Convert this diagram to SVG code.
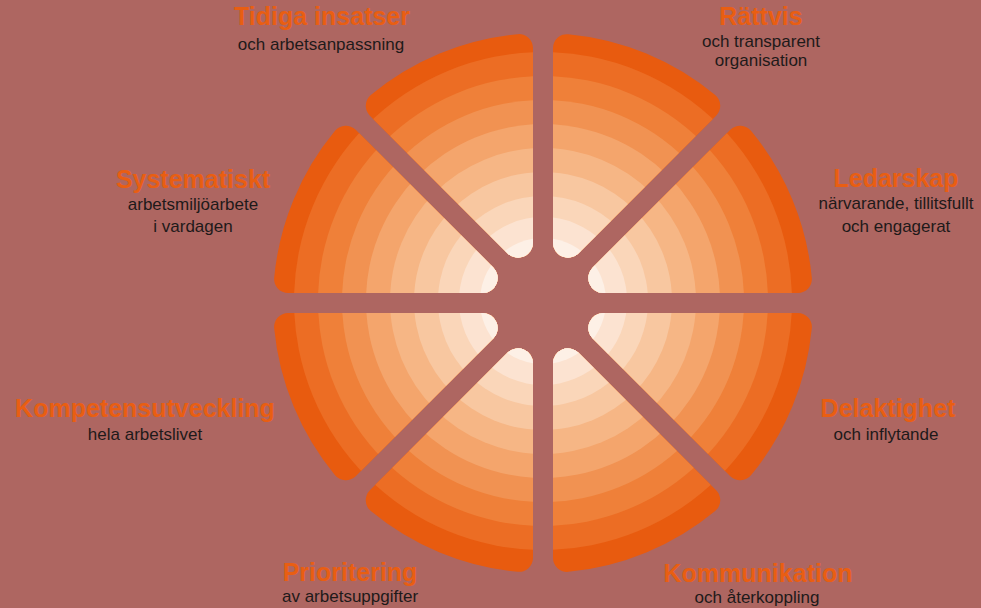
<svg xmlns="http://www.w3.org/2000/svg" xmlns:xlink="http://www.w3.org/1999/xlink" width="981" height="608" viewBox="0 0 981 608">
<style>
.t{font-family:"Liberation Sans",Arial,sans-serif;font-weight:bold;font-size:25px;fill:#E95E12;text-anchor:middle}
.s{font-family:"Liberation Sans",Arial,sans-serif;font-size:17px;fill:#1E1A1A;text-anchor:middle}
</style>
<defs>
<g id="rings">
<circle cx="543" cy="301" r="285" fill="#E85B0F"/>
<circle cx="543" cy="301" r="249" fill="#EC6D24"/>
<circle cx="543" cy="301" r="225" fill="#EF8039"/>
<circle cx="543" cy="301" r="201" fill="#F19252"/>
<circle cx="543" cy="301" r="177" fill="#F4A56C"/>
<circle cx="543" cy="301" r="153" fill="#F6B685"/>
<circle cx="543" cy="301" r="129" fill="#F8C7A0"/>
<circle cx="543" cy="301" r="105" fill="#FAD6B9"/>
<circle cx="543" cy="301" r="84" fill="#FCE3D1"/>
<circle cx="543" cy="301" r="63" fill="#FDF0E6"/>
</g>
<clipPath id="c0"><path transform="translate(543,303) rotate(0)" d="M10,-60.35L10,-254.87A14 14 0 0 1 25.31,-268.81A270 270 0 0 1 172.18,-207.98A14 14 0 0 1 173.15,-187.29L35.6,-49.74A15 15 0 0 1 10,-60.35Z"/></clipPath>
<clipPath id="c1"><path transform="translate(543,303) rotate(45)" d="M10,-60.35L10,-254.87A14 14 0 0 1 25.31,-268.81A270 270 0 0 1 172.18,-207.98A14 14 0 0 1 173.15,-187.29L35.6,-49.74A15 15 0 0 1 10,-60.35Z"/></clipPath>
<clipPath id="c2"><path transform="translate(543,303) rotate(90)" d="M10,-60.35L10,-254.87A14 14 0 0 1 25.31,-268.81A270 270 0 0 1 172.18,-207.98A14 14 0 0 1 173.15,-187.29L35.6,-49.74A15 15 0 0 1 10,-60.35Z"/></clipPath>
<clipPath id="c3"><path transform="translate(543,303) rotate(135)" d="M10,-60.35L10,-254.87A14 14 0 0 1 25.31,-268.81A270 270 0 0 1 172.18,-207.98A14 14 0 0 1 173.15,-187.29L35.6,-49.74A15 15 0 0 1 10,-60.35Z"/></clipPath>
<clipPath id="c4"><path transform="translate(543,303) rotate(180)" d="M10,-60.35L10,-254.87A14 14 0 0 1 25.31,-268.81A270 270 0 0 1 172.18,-207.98A14 14 0 0 1 173.15,-187.29L35.6,-49.74A15 15 0 0 1 10,-60.35Z"/></clipPath>
<clipPath id="c5"><path transform="translate(543,303) rotate(225)" d="M10,-60.35L10,-254.87A14 14 0 0 1 25.31,-268.81A270 270 0 0 1 172.18,-207.98A14 14 0 0 1 173.15,-187.29L35.6,-49.74A15 15 0 0 1 10,-60.35Z"/></clipPath>
<clipPath id="c6"><path transform="translate(543,303) rotate(270)" d="M10,-60.35L10,-254.87A14 14 0 0 1 25.31,-268.81A270 270 0 0 1 172.18,-207.98A14 14 0 0 1 173.15,-187.29L35.6,-49.74A15 15 0 0 1 10,-60.35Z"/></clipPath>
<clipPath id="c7"><path transform="translate(543,303) rotate(315)" d="M10,-60.35L10,-254.87A14 14 0 0 1 25.31,-268.81A270 270 0 0 1 172.18,-207.98A14 14 0 0 1 173.15,-187.29L35.6,-49.74A15 15 0 0 1 10,-60.35Z"/></clipPath>
</defs>
<rect width="981" height="608" fill="#AE6661"/>

<g id="node-rattvis">
<g clip-path="url(#c0)"><use href="#rings" xlink:href="#rings"/></g>
<text class="t" x="761" y="25">Rättvis</text>
<text class="s" x="761" y="47">och transparent</text>
<text class="s" x="761" y="66">organisation</text>
</g>

<g id="node-ledarskap">
<g clip-path="url(#c1)"><use href="#rings" xlink:href="#rings"/></g>
<text class="t" x="896" y="187">Ledarskap</text>
<text class="s" x="896" y="209">närvarande, tillitsfullt</text>
<text class="s" x="896" y="232">och engagerat</text>
</g>

<g id="node-delaktighet">
<g clip-path="url(#c2)"><use href="#rings" xlink:href="#rings"/></g>
<text class="t" x="888" y="417">Delaktighet</text>
<text class="s" x="886" y="440">och inflytande</text>
</g>

<g id="node-kommunikation">
<g clip-path="url(#c3)"><use href="#rings" xlink:href="#rings"/></g>
<text class="t" x="758" y="582">Kommunikation</text>
<text class="s" x="757" y="603">och återkoppling</text>
</g>

<g id="node-prioritering">
<g clip-path="url(#c4)"><use href="#rings" xlink:href="#rings"/></g>
<text class="t" x="350" y="581">Prioritering</text>
<text class="s" x="350" y="602">av arbetsuppgifter</text>
</g>

<g id="node-kompetensutveckling">
<g clip-path="url(#c5)"><use href="#rings" xlink:href="#rings"/></g>
<text class="t" x="145" y="417">Kompetensutveckling</text>
<text class="s" x="145" y="440">hela arbetslivet</text>
</g>

<g id="node-systematiskt">
<g clip-path="url(#c6)"><use href="#rings" xlink:href="#rings"/></g>
<text class="t" x="193" y="188">Systematiskt</text>
<text class="s" x="193" y="210">arbetsmiljöarbete</text>
<text class="s" x="193" y="232">i vardagen</text>
</g>

<g id="node-tidiga">
<g clip-path="url(#c7)"><use href="#rings" xlink:href="#rings"/></g>
<text class="t" x="322" y="25">Tidiga insatser</text>
<text class="s" x="321" y="50">och arbetsanpassning</text>
</g>

<g id="connectors"/>
</svg>
